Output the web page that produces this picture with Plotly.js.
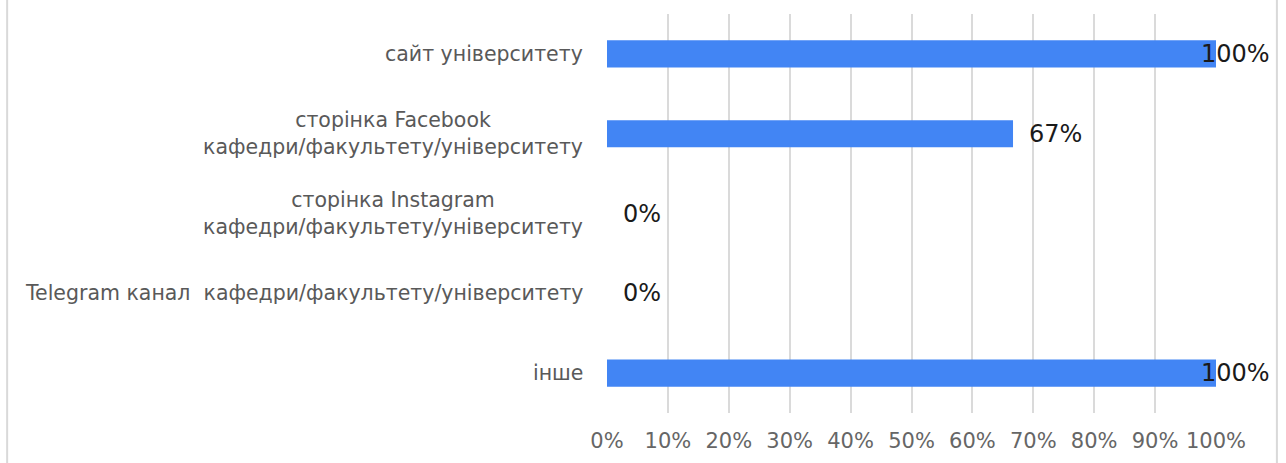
<!DOCTYPE html>
<html>
<head>
<meta charset="utf-8">
<script src="https://cdn.plot.ly/plotly-3.0.1.min.js"></script>
<style>
html,body{margin:0;padding:0;background:#fff;}
#chart{width:1286px;height:463px;}
</style>
</head>
<body>
<div id="chart"></div>
<script>
const categories = [
  "сайт університету",
  "сторінка Facebook<br>кафедри/факультету/університету",
  "сторінка Instagram<br>кафедри/факультету/університету",
  "Telegram канал\u00a0 кафедри/факультету/університету",
  "інше"
];
const values = [100, 66.67, 0, 0, 100];
const valueLabels = ["100%", "67%", "0%", "0%", "100%"];
const tickValues = [0, 10, 20, 30, 40, 50, 60, 70, 80, 90, 100];
const tickLabels = ["0%", "10%", "20%", "30%", "40%", "50%", "60%", "70%", "80%", "90%", "100%"];

const FONT = "'DejaVu Sans', Arial, sans-serif";

const trace = {
  type: "bar",
  orientation: "h",
  x: values,
  y: categories,
  marker: {color: "#4285F4"},
  width: 0.34,
  hoverinfo: "none"
};

// value labels next to bar ends
const valueAnnotations = values.map((v, i) => ({
  x: v,
  y: categories[i],
  xref: "x",
  yref: "y",
  text: valueLabels[i],
  showarrow: false,
  xanchor: "left",
  yanchor: "middle",
  xshift: v >= 100 ? -17 : 14,
  font: {family: FONT, size: 24, color: "#1a1a1a"}
}));

// category labels (centred lines, right-anchored block)
const categoryAnnotations = categories.map((c) => ({
  x: 0,
  y: c,
  xref: "paper",
  yref: "y",
  text: c,
  showarrow: false,
  xanchor: "right",
  yanchor: "middle",
  align: "center",
  xshift: -22,
  font: {family: FONT, size: 20.5, color: "#595959"}
}));

const layout = {
  width: 1286,
  height: 463,
  margin: {l: 607, r: 70, t: 14, b: 50, pad: 0},
  paper_bgcolor: "#ffffff",
  plot_bgcolor: "#ffffff",
  showlegend: false,
  font: {family: FONT},
  xaxis: {
    range: [0, 100],
    tickvals: tickValues,
    ticktext: tickLabels,
    showgrid: true,
    gridcolor: "#dadada",
    gridwidth: 2,
    zeroline: false,
    showline: false,
    ticks: "",
    ticklabelstandoff: 13,
    tickfont: {family: FONT, size: 21, color: "#666666"},
    fixedrange: true
  },
  yaxis: {
    autorange: "reversed",
    showgrid: false,
    zeroline: false,
    showline: false,
    ticks: "",
    showticklabels: false,
    fixedrange: true
  },
  annotations: valueAnnotations.concat(categoryAnnotations),
  shapes: [
    {type: "line", xref: "paper", yref: "paper", x0: -0.985, x1: -0.985, y0: -0.2, y1: 1.1,
     line: {color: "#d9d9d9", width: 2}},
    {type: "line", xref: "paper", yref: "paper", x0: 1.1, x1: 1.1, y0: -0.2, y1: 1.1,
     line: {color: "#d9d9d9", width: 2}}
  ]
};

Plotly.newPlot("chart", [trace], layout, {displayModeBar: false, staticPlot: true});
</script>
</body>
</html>
